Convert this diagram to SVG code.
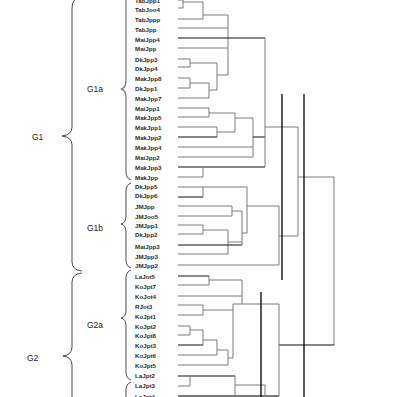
<svg xmlns="http://www.w3.org/2000/svg" width="397" height="397" viewBox="0 0 397 397">
<style>
.lbl{font-family:"Liberation Sans",Arial,sans-serif;font-size:6.2px;font-weight:bold;fill:#2a2a2a}
.grp{font-family:"Liberation Sans",Arial,sans-serif;font-size:8.5px;fill:#222}
.g{stroke:#7a7a7a;stroke-width:1;fill:none}
.k{stroke:#111;stroke-width:1.2;fill:none}
.br{stroke:#333;stroke-width:0.9;fill:none}
.cut{stroke:#000;stroke-width:1.3;fill:none}
</style>
<rect width="397" height="397" fill="#fff"/>
<g id="braces">
<g id="brace-G1"><path class="br" d="M80 -3 Q72 -1 72 8 L72 127 Q72 135 62 136 Q72 137 72 145 L72 262 Q72 270 82 271"/><text class="grp" x="32" y="140" font-size="9">G1</text></g>
<g id="brace-G2"><path class="br" d="M82 273 Q72 274 72 282 L72 347 Q72 355 63 356 Q72 357 72 365 L72 400"/><text class="grp" x="27" y="361" font-size="9">G2</text></g>
<g id="brace-G1a"><path class="br" style="stroke:#777;stroke-width:1.3" d="M126 -3 L126 80 Q126 88 121 89 Q126 90 126 98 L126 172 Q126 178 131 180"/><text class="grp" x="87" y="92">G1a</text></g>
<g id="brace-G1b"><path class="br" d="M131 183 Q126 185 126 191 L126 216 Q126 223 121 224 Q126 225 126 232 L126 260 Q126 266 131 268"/><text class="grp" x="87" y="231">G1b</text></g>
<g id="brace-G2a"><path class="br" d="M131 270 Q126 272 126 278 L126 310 Q126 317 121 318 Q126 319 126 326 L126 372 Q126 378 131 380"/><text class="grp" x="87" y="328">G2a</text></g>
<g id="brace-G2b"><path class="br" d="M131 382 Q126 384 126 390 L126 400"/></g>
</g>
<g id="labels">
<text class="lbl" x="135" y="3">TabJpp1</text>
<text class="lbl" x="135" y="12">TabJoo4</text>
<text class="lbl" x="135" y="22">TabJppp</text>
<text class="lbl" x="135" y="32">TabJpp</text>
<text class="lbl" x="135" y="42">MaiJpp4</text>
<text class="lbl" x="135" y="51">MaiJpp</text>
<text class="lbl" x="135" y="62">DkJpp3</text>
<text class="lbl" x="135" y="71">DkJpp4</text>
<text class="lbl" x="135" y="81">MakJpp8</text>
<text class="lbl" x="135" y="91">DkJpp1</text>
<text class="lbl" x="135" y="101">MakJpp7</text>
<text class="lbl" x="135" y="111">MaiJpp1</text>
<text class="lbl" x="135" y="120">MakJpp5</text>
<text class="lbl" x="135" y="130">MakJpp1</text>
<text class="lbl" x="135" y="140">MakJpp2</text>
<text class="lbl" x="135" y="150">MakJpp4</text>
<text class="lbl" x="135" y="160">MaiJpp2</text>
<text class="lbl" x="135" y="170">MakJpp3</text>
<text class="lbl" x="135" y="180">MakJpp</text>
<text class="lbl" x="135" y="189">DkJpp5</text>
<text class="lbl" x="135" y="198">DkJpp6</text>
<text class="lbl" x="135" y="209">JMJpp</text>
<text class="lbl" x="135" y="219">JMJoo5</text>
<text class="lbl" x="135" y="228">JMJpp1</text>
<text class="lbl" x="135" y="237">DkJpp2</text>
<text class="lbl" x="135" y="249">MaiJpp3</text>
<text class="lbl" x="135" y="259">JMJpp3</text>
<text class="lbl" x="135" y="268">JMJpp2</text>
<text class="lbl" x="135" y="279">LaJot5</text>
<text class="lbl" x="135" y="289">KoJpt7</text>
<text class="lbl" x="135" y="299">KoJot4</text>
<text class="lbl" x="135" y="309">RJot3</text>
<text class="lbl" x="135" y="319">KoJpt1</text>
<text class="lbl" x="135" y="329">KoJpt2</text>
<text class="lbl" x="135" y="338">KoJpt8</text>
<text class="lbl" x="135" y="348">KoJpt3</text>
<text class="lbl" x="135" y="358">KoJpt6</text>
<text class="lbl" x="135" y="368">KoJpt5</text>
<text class="lbl" x="135" y="378">LaJpt2</text>
<text class="lbl" x="135" y="388">LaJpt3</text>
<text class="lbl" x="135" y="399">LaJpt4</text>
</g>
<g id="connectors">
<!-- G1a -->
<path class="g" d="M178 0H183M183 -2V8M178 8H183M183 2H203M178 19H203M203 2V19M203 15H228M178 28H228M178 48H228M228 15V75"/>
<path class="k" d="M178 38H265"/>
<path class="g" d="M178 59H190M178 67H190M190 59V67M190 63H217M178 78H190M178 88H190M190 78V88M190 83H209M178 98H209M209 83V98M209 90H217M217 63V90M217 75H228"/>
<path class="g" d="M178 108H209M178 117H209M209 108V117M209 113H235M178 127H217M217 127V137M217 132H235M235 113V132M235 118H253M178 147H253M178 157H253M253 118V157"/>
<path class="k" d="M178 137H217M253 137H265M178 167H265"/>
<path class="g" d="M178 177H203M203 167V177M265 38V167M265 127H298"/>
<!-- G1b -->
<path class="g" d="M178 187H247M203 187V197M178 206H232M178 216H232M232 206V216M232 211H242M178 225H203M178 234H203M203 225V234M203 230H228M178 254H228M228 230V254M228 242H242M242 211V245M242 233H247M247 187V233M247 206H279M178 265H279M279 206V265M279 236H298"/>
<path class="k" d="M178 197H203M178 245H242"/>
<!-- root -->
<path class="g" d="M298 127V236M298 177H334M334 177V345"/>
<path class="k" d="M279 345H334"/>
<!-- G2a -->
<path class="k" d="M178 276H209M178 345H203"/>
<path class="g" d="M178 285H209M209 276V285M209 280H242M178 296H242M242 280V304M178 305H203M178 315H203M203 305V315M203 310H233M178 326H190M178 335H190M190 326V335M190 330H203M203 330V345M203 340H217M178 355H217M217 340V355M217 350H228M178 365H228M228 350V365M228 358H233M233 304V358M233 304H279M279 304V396"/>
<!-- G2b -->
<path class="k" d="M178 376H235"/>
<path class="g" d="M178 386H190M190 376V386M235 376V397M235 385H265M265 385V396"/>
<path class="g" style="stroke-width:2" d="M178 396H279"/>
<!-- cut lines -->
<path class="cut" d="M282 94V280M304 94V397M261 292V397"/>
</g>
</svg>
